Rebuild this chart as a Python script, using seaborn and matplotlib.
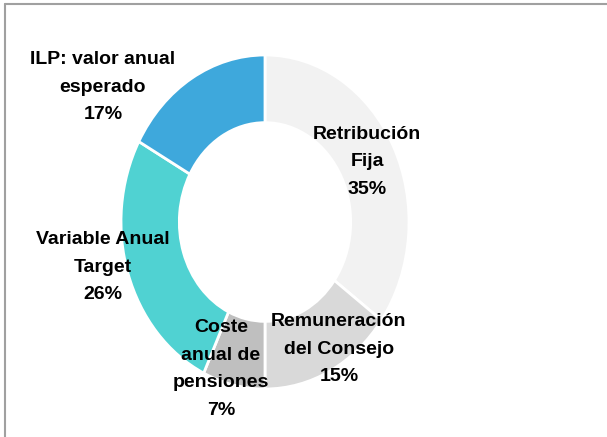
import numpy as np
import matplotlib
matplotlib.use("Agg")
import matplotlib.pyplot as plt
from matplotlib.lines import Line2D
import seaborn as sns

# =========================================================
# DATA
# =========================================================
labels = ["Retribución\nFija", "Remuneración\ndel Consejo", "Coste\nanual de\npensiones",
          "Variable Anual\nTarget", "ILP: valor anual\nesperado"]
values = [35, 15, 7, 26, 17]
colors = ["#f2f2f2", "#d9d9d9", "#bfbfbf", "#50d2d2", "#3ea8dc"]

# label centres in pixels (layout only)
label_px = [(367, 162), (339, 349), (221, 369), (103, 267), (103, 87)]

# =========================================================
# FIGURE
# =========================================================
sns.set_theme(style="white")
plt.rcParams['font.family'] = ['Liberation Sans', 'DejaVu Sans']

W, H = 607, 437
cx, cy, rx, ry = 265, 222, 144, 167

fig = plt.figure(figsize=(W / 100, H / 100), dpi=100)
ax = fig.add_axes([0, 0, 1, 1])

ax.pie(values, colors=colors, startangle=90, counterclock=False, radius=1.0,
       wedgeprops=dict(width=0.405, edgecolor="white", linewidth=2))

ax.set_aspect("auto")
ax.set_xlim(-cx / rx, (W - cx) / rx)
ax.set_ylim((cy - H) / ry, cy / ry)
ax.axis("off")

for lab, v, (px, py) in zip(labels, values, label_px):
    ax.text((px - cx) / rx, (cy - py) / ry, f"{lab}\n{v}%", ha="center", va="center",
            fontsize=14, fontweight="bold", color="black", linespacing=1.8)

# frame lines (top and left)
fig.add_artist(Line2D([5 / W, 1], [1 - 3.5 / H, 1 - 3.5 / H], color="#a0a0a0", lw=1.5,
                      transform=fig.transFigure))
fig.add_artist(Line2D([5 / W, 5 / W], [0, 1 - 3.5 / H], color="#a0a0a0", lw=1.5,
                      transform=fig.transFigure))

fig.savefig("out.png", dpi=100)
